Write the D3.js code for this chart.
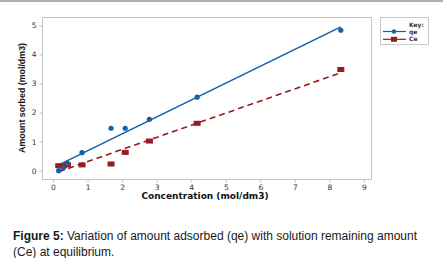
<!DOCTYPE html>
<html>
<head>
<meta charset="utf-8">
<script src="https://cdn.jsdelivr.net/npm/d3@7"></script>
<style>
  body { margin: 0; background: #fff; }
  svg { display: block; }
</style>
</head>
<body>
<script>
// concentration (x) shared by both series
const conc = [0.165, 0.3, 0.42, 0.84, 1.68, 2.09, 2.79, 4.17, 8.33]
const qeVals = [0.0, 0.1, 0.25, 0.62, 1.46, 1.46, 1.77, 2.53, 4.83]
const ceVals = [0.17, 0.17, 0.2, 0.2, 0.23, 0.63, 1.02, 1.63, 3.48]
const xTicks = [0, 1, 2, 3, 4, 5, 6, 7, 8, 9]
const yTicks = [0, 1, 2, 3, 4, 5]
const seriesNames = ['qe', 'Ce']

const width = 443
const height = 258
const frame = { left: 42, top: 17, right: 371, bottom: 179 }
const blue = '#1460aa'
const red = '#981b1e'
const axisColor = '#c4c4c4'

const svg = d3.select('body').append('svg')
  .attr('width', width)
  .attr('height', height)

// grey strip along the top edge
svg.append('rect')
  .attr('x', 0).attr('y', 0)
  .attr('width', width).attr('height', 2)
  .attr('fill', '#b0b0b0')

const x = d3.scaleLinear().domain([0, 9]).range([53, 364])
const y = d3.scaleLinear().domain([0, 5]).range([170.7, 25.3])

// frame
svg.append('rect')
  .attr('x', frame.left + 0.5).attr('y', frame.top + 0.5)
  .attr('width', frame.right - frame.left).attr('height', frame.bottom - frame.top)
  .attr('fill', 'none')
  .attr('stroke', axisColor)

const xAxis = svg.append('g')
  .attr('transform', `translate(0,${frame.bottom + 0.5})`)
  .call(d3.axisBottom(x).tickValues(xTicks).tickSize(3).tickPadding(2).tickFormat(d3.format('d')))
const yAxis = svg.append('g')
  .attr('transform', `translate(${frame.left + 0.5},0)`)
  .call(d3.axisLeft(y).tickValues(yTicks).tickSize(3).tickPadding(3).tickFormat(d3.format('d')))

;[xAxis, yAxis].forEach(ax => {
  ax.select('.domain').remove()
  ax.selectAll('line').attr('stroke', axisColor)
  ax.selectAll('text')
    .attr('fill', '#2f3440')
    .style('font', '7.5px "DejaVu Sans", sans-serif')
})

// least squares fit
const fit = (xs, ys) => {
  const mx = d3.mean(xs), my = d3.mean(ys)
  let sxy = 0, sxx = 0
  xs.forEach((v, i) => { sxy += (v - mx) * (ys[i] - my); sxx += (v - mx) * (v - mx) })
  const slope = sxy / sxx
  return { slope, intercept: my - slope * mx }
}
const ext = d3.extent(conc)
const line = d3.line().x(d => x(d[0])).y(d => y(d[1]))

const drawFit = (ys, color, dash) => {
  const f = fit(conc, ys)
  svg.append('path')
    .datum(ext.map(v => [v, f.intercept + f.slope * v]))
    .attr('d', line)
    .attr('fill', 'none')
    .attr('stroke', color)
    .attr('stroke-width', 1.6)
    .attr('stroke-dasharray', dash)
}
drawFit(ceVals, red, '6,4')
drawFit(qeVals, blue, null)

svg.append('g').selectAll('rect')
  .data(conc.map((v, i) => [v, ceVals[i]]))
  .enter()
  .append('rect')
    .attr('x', d => x(d[0]) - 3.5)
    .attr('y', d => y(d[1]) - 2.5)
    .attr('width', 7)
    .attr('height', 5)
    .attr('fill', red)

svg.append('g').selectAll('circle')
  .data(conc.map((v, i) => [v, qeVals[i]]))
  .enter()
  .append('circle')
    .attr('cx', d => x(d[0]))
    .attr('cy', d => y(d[1]))
    .attr('r', 2.6)
    .attr('fill', blue)

// axis titles
svg.append('text')
  .attr('x', 205).attr('y', 199)
  .attr('text-anchor', 'middle')
  .style('font', 'bold 9px "DejaVu Sans", sans-serif')
  .attr('fill', '#111')
  .text('Concentration (mol/dm3)')

svg.append('text')
  .attr('transform', 'translate(24.5,98) rotate(-90)')
  .attr('text-anchor', 'middle')
  .attr('textLength', 110)
  .attr('lengthAdjust', 'spacingAndGlyphs')
  .style('font', 'bold 9.5px "Liberation Sans", sans-serif')
  .attr('fill', '#111')
  .text('Amount sorbed (mol/dm3)')

// legend
const legend = svg.append('g')
legend.append('rect')
  .attr('x', 380.5).attr('y', 17.5)
  .attr('width', 48).attr('height', 27)
  .attr('fill', '#fff')
  .attr('stroke', '#c8c8c8')
legend.append('text')
  .attr('x', 409).attr('y', 26.5)
  .style('font', 'bold 6px "DejaVu Sans", sans-serif')
  .attr('fill', '#333')
  .text('Key:')
const legRows = legend.selectAll('.row')
  .data(seriesNames)
  .enter()
  .append('g')
    .attr('class', 'row')
    .attr('transform', (d, i) => `translate(0,${31.5 + i * 7.8})`)
legRows.append('line')
  .attr('x1', 383).attr('x2', 406)
  .attr('stroke', (d, i) => i ? red : blue)
  .attr('stroke-width', 1.2)
legRows.filter((d, i) => i === 0)
  .append('circle')
  .attr('cx', 394).attr('r', 2.2)
  .attr('fill', blue)
legRows.filter((d, i) => i === 1)
  .append('rect')
  .attr('x', 391).attr('y', -2.5).attr('width', 6).attr('height', 5)
  .attr('fill', red)
legRows.append('text')
  .attr('x', 409).attr('y', 2)
  .style('font', 'bold 6px "DejaVu Sans", sans-serif')
  .attr('fill', '#333')
  .text(d => d)

// caption
const caption = svg.append('text')
  .style('font', '12px "Liberation Sans", Arial, sans-serif')
  .attr('fill', '#1a1a1a')
const l1 = caption.append('tspan').attr('x', 13).attr('y', 239.5)
l1.append('tspan').style('font-weight', 'bold').text('Figure 5:')
l1.append('tspan').text(' Variation of amount adsorbed (qe) with solution remaining amount')
caption.append('tspan').attr('x', 13).attr('y', 255.5).text('(Ce) at equilibrium.')
</script>
</body>
</html>
